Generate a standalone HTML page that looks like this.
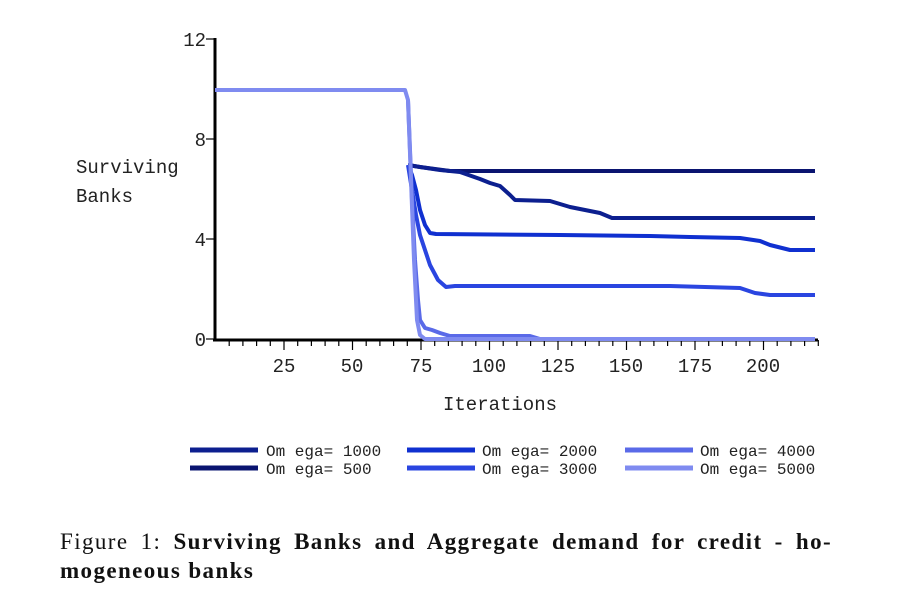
<!DOCTYPE html>
<html><head><meta charset="utf-8"><style>
body{margin:0;background:#fff;width:897px;height:605px;overflow:hidden}
svg{display:block}
.t{font-family:"Liberation Mono",monospace;font-size:19px;fill:#222}
.l{font-family:"Liberation Mono",monospace;font-size:16px;fill:#222}
.c{font-family:"Liberation Serif",serif;font-size:23px;fill:#111;letter-spacing:1.4px}
</style></head><body>
<svg width="897" height="605" viewBox="0 0 897 605">
<g stroke="#000" stroke-width="3" fill="none">
<line x1="215" y1="38" x2="215" y2="341"/>
<line x1="213" y1="340" x2="818" y2="340"/>
</g>
<g stroke="#000" stroke-width="1.2">
<line x1="206" y1="39" x2="215" y2="39"/>
<line x1="206" y1="139" x2="215" y2="139"/>
<line x1="206" y1="239" x2="215" y2="239"/>
<line x1="206" y1="339" x2="215" y2="339"/>
</g>
<g class="t" text-anchor="end">
<text x="206" y="46">12</text><text x="206" y="146">8</text><text x="206" y="246">4</text><text x="206" y="346">0</text>
</g>
<g stroke="#000" stroke-width="1.2" id="ticks"></g>
<g class="t" text-anchor="middle">
<text x="284" y="372">25</text><text x="352" y="372">50</text><text x="421" y="372">75</text><text x="489" y="372">100</text><text x="558" y="372">125</text><text x="626" y="372">150</text><text x="695" y="372">175</text><text x="763" y="372">200</text>
<text x="500" y="410">Iterations</text>
</g>
<text class="t" x="76" y="173">Surviving</text>
<text class="t" x="76" y="202">Banks</text>
<g fill="none" stroke-width="4" stroke-linejoin="round">
<polyline stroke="#0a1470" points="408,165 420,167 435,169 450,171 815,171"/>
<polyline stroke="#0c1f8f" points="408,165 420,167 440,170 460,172 480,179 490,183 500,186 510,195 515,200 550,201 560,204 570,207 585,210 600,213 612,218 815,218"/>
<polyline stroke="#1030d0" points="408,165 412,175 416,190 420,210 425,225 430,233 436,234 560,235 650,236 690,237 740,238 760,241 770,245 790,250 815,250"/>
<polyline stroke="#2a45e0" points="408,165 412,190 416,215 420,235 425,250 430,265 438,280 446,287 455,286 670,286 740,288 755,293 770,295 815,295"/>
<polyline stroke="#5a6ae8" points="408,100 410,150 412,200 415,260 418,300 420,320 425,328 432,330 440,333 450,336 530,336 540,339 815,339"/>
<polyline stroke="#7f8bf0" points="215,90 405,90 408,100 411,180 414,260 417,320 420,335 425,339 815,339"/>
</g>
<g stroke-width="5">
<line x1="190" y1="450" x2="258" y2="450" stroke="#0c1f8f"/>
<line x1="190" y1="468" x2="258" y2="468" stroke="#0a1470"/>
<line x1="407" y1="450" x2="475" y2="450" stroke="#1030d0"/>
<line x1="407" y1="468" x2="475" y2="468" stroke="#2a45e0"/>
<line x1="625" y1="450" x2="693" y2="450" stroke="#5a6ae8"/>
<line x1="625" y1="468" x2="693" y2="468" stroke="#7f8bf0"/>
</g>
<g class="l">
<text x="266" y="456">Om ega= 1000</text><text x="266" y="474">Om ega= 500</text>
<text x="482" y="456">Om ega= 2000</text><text x="482" y="474">Om ega= 3000</text>
<text x="700" y="456">Om ega= 4000</text><text x="700" y="474">Om ega= 5000</text>
</g>
<text class="c" x="60" y="549" word-spacing="5">Figure 1: <tspan font-weight="bold">Surviving Banks and Aggregate demand for credit - ho-</tspan></text>
<text class="c" x="60" y="578" font-weight="bold">mogeneous banks</text>
</svg>
<script>
var g=document.getElementById('ticks'),s='';
for(var v=5;v<=220;v+=5){var x=215.5+v*2.74;var h=(v%25==0)?10:6;s+='<line x1="'+x+'" y1="340" x2="'+x+'" y2="'+(340+h)+'"/>';}
g.innerHTML=s;
</script>
</body></html>
